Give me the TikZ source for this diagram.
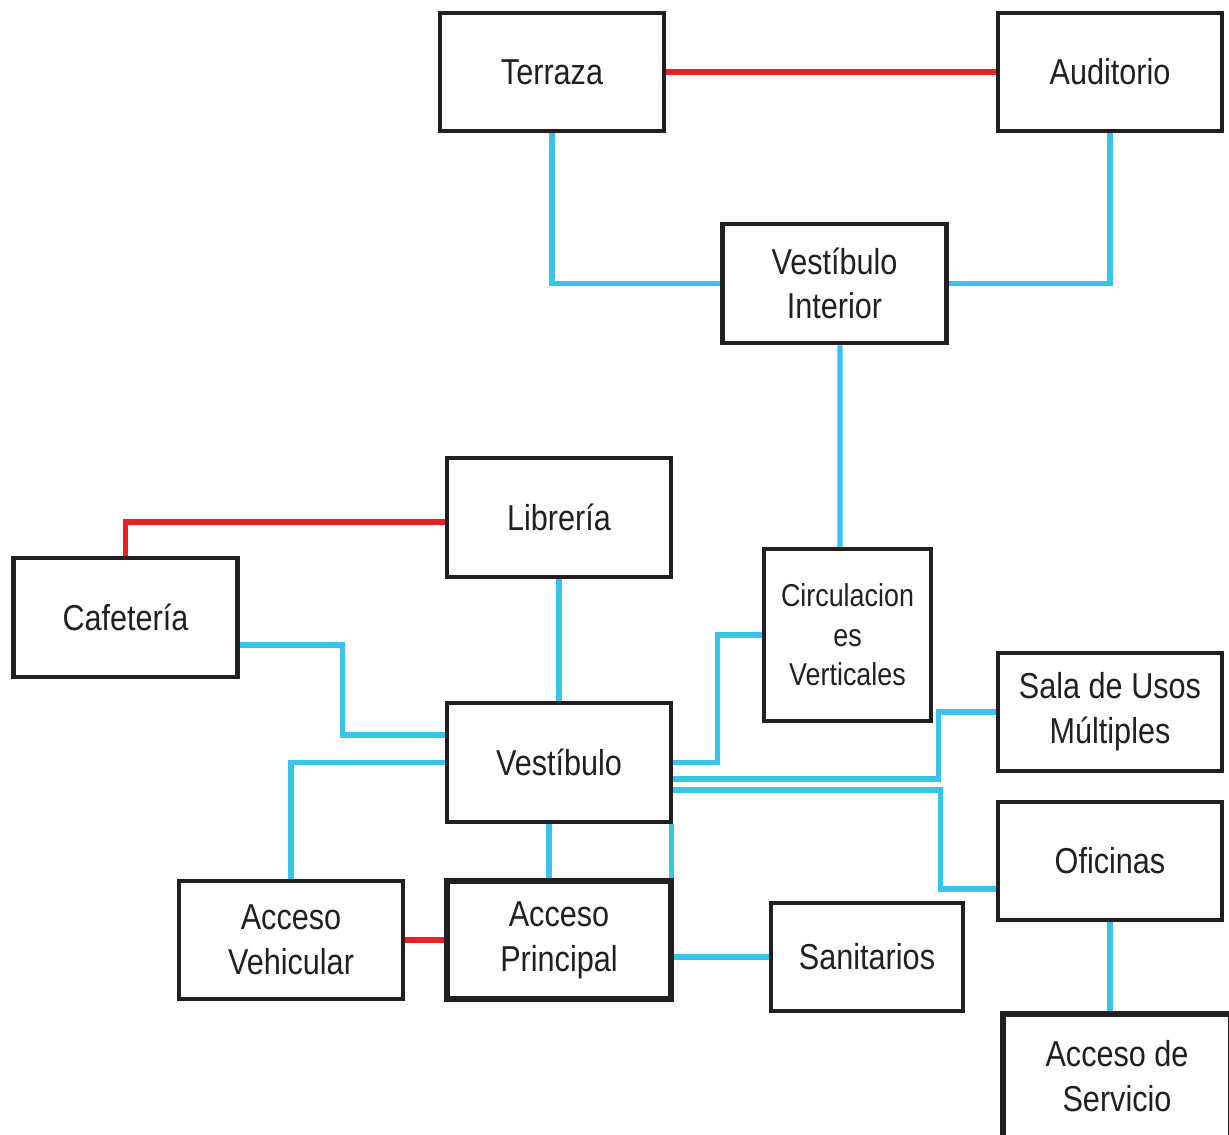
\documentclass[tikz,border=0pt]{standalone}
\usepackage{fontspec}
\setmainfont{Liberation Sans}[FakeStretch=0.85]
\usetikzlibrary{backgrounds}
\definecolor{boxblack}{RGB}{35,31,32}
\definecolor{linkblue}{RGB}{58,195,237}
\definecolor{linkred}{RGB}{237,32,36}
\begin{document}
\begin{tikzpicture}[x=0.02cm, y=-0.02cm,
        box/.style = {draw=boxblack, line width=2.6pt, rectangle, inner sep=0pt,
                      minimum width=4.48cm, minimum height=2.36cm, align=center,
                      text=boxblack, font=\fontsize{20.5}{25.5}\selectfont},
        link/.style = {draw=linkblue, line width=3.1pt},
        tie/.style = {draw=linkred, line width=3.1pt},
    ]
    \useasboundingbox (0,0) rectangle (1229,1134);
    \clip (0,0) rectangle (1229,1134);

    \node (terraza) [box] at (552,72) {Terraza};
    \node (auditorio) [box] at (1110,72) {Auditorio};
    \node (vestint) [box, minimum height=2.38cm] at (834.5,283.5) {Vestíbulo\\Interior};
    \node (libreria) [box, minimum height=2.38cm] at (559,517.5) {Librería};
    \node (cafeteria) [box, minimum height=2.38cm] at (125.5,617.5) {Cafetería};
    \node (circ) [box, minimum width=3.34cm, minimum height=3.44cm,
                  font=\fontsize{18}{22.5}\selectfont] at (847.5,635) {Circulacion\\es\\Verticales};
    \node (sum) [box] at (1110,712) {Sala de Usos\\Múltiples};
    \node (vestibulo) [box, minimum height=2.38cm] at (559,762.5) {Vestíbulo};
    \node (oficinas) [box] at (1110,861) {Oficinas};
    \node (acvehic) [box] at (291,940) {Acceso\\Vehicular};
    \node (acprin) [box, line width=3.2pt] at (559,940) {Acceso\\Principal};
    \node (sanitarios) [box, minimum width=3.84cm, minimum height=2.16cm] at (867,957) {Sanitarios};
    \node (acserv) [box, line width=3pt, minimum width=4.56cm, minimum height=2.48cm] at (1117,1076) {Acceso de\\Servicio};

    \begin{scope}[on background layer]
        % red ties
        \path[tie] (terraza.east) -- (auditorio.west);
        \path[tie] ([yshift=-0.09cm]libreria.west) -| (cafeteria.north);
        \path[tie] (acvehic.east) -- (acprin.west);

        % upper level
        \path[link] (terraza.south) |- (vestint.west);
        \path[link] (auditorio.south) |- (vestint.east);
        \path[link] ([xshift=0.11cm]vestint.south) -- ([xshift=-0.15cm]circ.north);

        % lower level
        \path[link] (libreria.south) -- (vestibulo.north);
        \path[link] ([yshift=-0.55cm]cafeteria.east) -- ++(103,0) |- ([yshift=0.55cm]vestibulo.west);
        \path[link] (vestibulo.west) -| (acvehic.north);
        \path[link] ([xshift=-0.2cm]vestibulo.south) -- ([xshift=-0.2cm]acprin.north);
        \path[link] (vestibulo.east) -- ++(44,0) |- (circ.west);
        \path[link] ([yshift=-0.33cm]vestibulo.east) -- ++(265,0) |- (sum.west);
        \path[link] ([yshift=-0.55cm]vestibulo.east) -- ++(267,0) |- ([yshift=-0.56cm]oficinas.west);
        \path[link] ([xshift=-0.04cm]vestibulo.south east) |- (sanitarios.west);
        \path[link] (oficinas.south) -- (oficinas.south |- acserv.north);
    \end{scope}
\end{tikzpicture}
\end{document}
